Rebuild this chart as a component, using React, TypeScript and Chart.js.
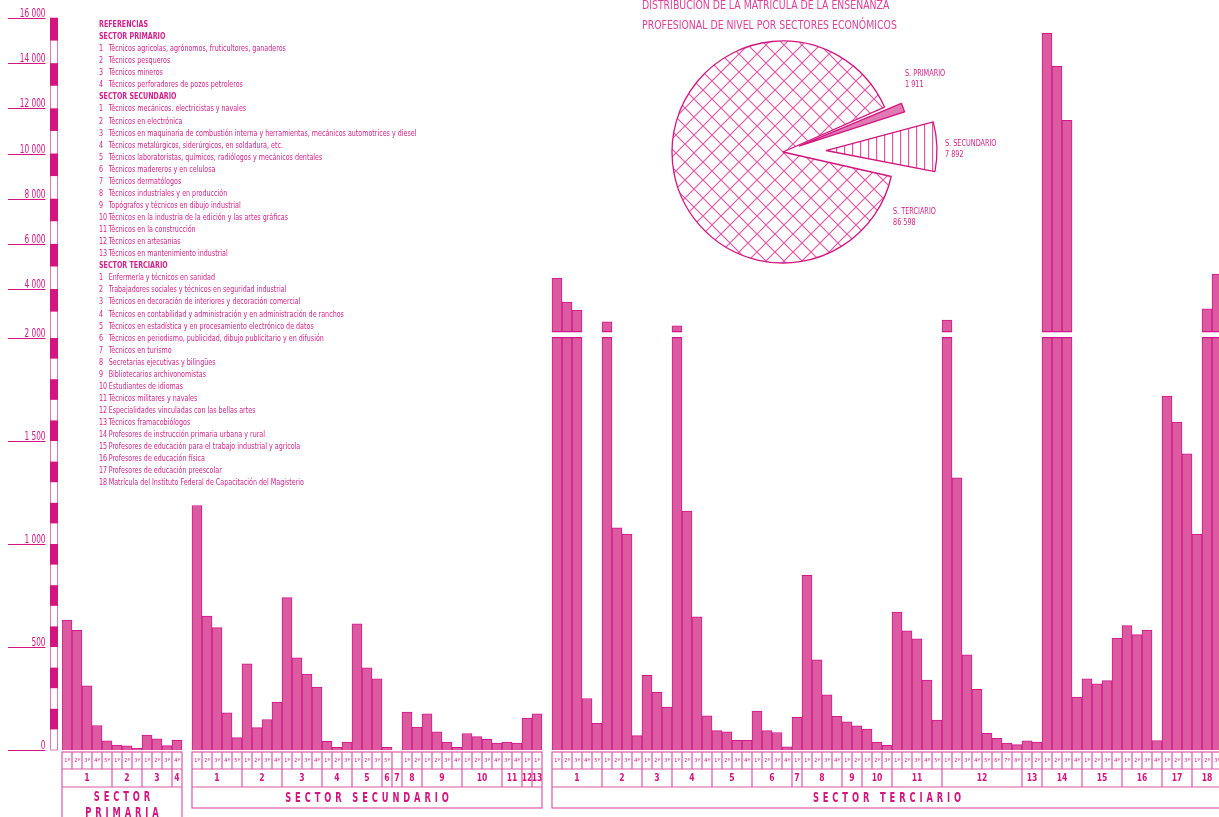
import React, { useEffect, useRef } from 'react';
import { Chart, registerables, LinearScale } from 'chart.js';

// ---------------- data ----------------
const primarioGrupos = ['1', '2', '3', '4'];
const primarioCursos = [['1ª', '2ª', '3ª', '4ª', '5ª'], ['1ª', '2ª', '3ª'], ['1ª', '2ª', '3ª'], ['4ª']];
const primarioValores = [[631, 581, 312, 119, 45], [24, 20, 8], [72, 54, 21], [47]];

const secundarioGrupos = ['1', '2', '3', '4', '5', '6', '7', '8', '9', '10', '11', '12', '13'];
const secundarioCursos = [
  ['1ª', '2ª', '3ª', '4ª', '5ª'], ['1ª', '2ª', '3ª', '4ª'], ['1ª', '2ª', '3ª', '4ª'], ['1ª', '2ª', '3ª'],
  ['1ª', '2ª', '3ª'], ['5ª'], [''], ['1ª', '2ª'], ['1ª', '2ª', '3ª', '4ª'], ['1ª', '2ª', '3ª', '4ª'],
  ['3ª', '4ª'], ['1ª'], ['1ª'],
];
const secundarioValores = [
  [1187, 650, 594, 181, 60], [418, 109, 148, 233], [740, 447, 368, 306], [42, 13, 39],
  [613, 399, 345], [13], [null], [184, 111], [176, 88, 38, 13], [80, 65, 52, 33],
  [38, 33], [155], [176],
];

const terciarioGrupos = ['1', '2', '3', '4', '5', '6', '7', '8', '9', '10', '11', '12', '13', '14', '15', '16', '17', '18'];
const terciarioCursos = [
  ['1ª', '2ª', '3ª', '4ª', '5ª'], ['1ª', '2ª', '3ª', '4ª'], ['1ª', '2ª', '3ª'], ['1ª', '2ª', '3ª', '4ª'],
  ['1ª', '2ª', '3ª', '4ª'], ['1ª', '2ª', '3ª', '4ª'], ['1ª'], ['1ª', '2ª', '3ª', '4ª'], ['1ª', '2ª'],
  ['1ª', '2ª', '3ª'], ['1ª', '2ª', '3ª', '4ª', '5ª'], ['1ª', '2ª', '3ª', '4ª', '5ª', '6ª', '7ª', '8ª'],
  ['1ª', '2ª'], ['1ª', '2ª', '3ª', '4ª'], ['1ª', '2ª', '3ª', '4ª'], ['1ª', '2ª', '3ª', '4ª'],
  ['1ª', '2ª', '3ª'], ['1ª', '2ª', '3ª'],
];
const terciarioValores = [
  [4489, 3426, 3072, 250, 130], [2554, 1078, 1048, 70], [363, 280, 208], [2376, 1160, 647, 166],
  [94, 88, 47, 47], [189, 94, 85, 15], [158], [848, 438, 268, 163], [137, 117],
  [102, 38, 23], [670, 579, 540, 340, 145], [2629, 1321, 462, 294, 81, 57, 33, 26],
  [44, 39], [15326, 13864, 11473, 257], [345, 321, 337, 543], [604, 560, 582, 46],
  [1718, 1592, 1438], [1048, 3129, 4666],
];

const sectorNames = [['SECTOR', 'PRIMARIA'], ['SECTOR SECUNDARIO'], ['SECTOR TERCIARIO']];
const yTickValues = [0, 500, 1000, 1500, 2000, 4000, 6000, 8000, 10000, 12000, 14000, 16000];

const pieLabels = ['S. TERCIARIO', 'S. PRIMARIO', 'S. SECUNDARIO'];
const pieValues = [86598, 1911, 7892];

const titleLines = ['DISTRIBUCIÓN DE LA MATRÍCULA DE LA ENSEÑANZA', 'PROFESIONAL DE NIVEL POR SECTORES ECONÓMICOS'];

const legendPrimario = [
  'Técnicos agricolas, agrónomos, fruticultores, ganaderos',
  'Técnicos pesqueros',
  'Técnicos mineros',
  'Técnicos perforadores de pozos petroleros',
];
const legendSecundario = [
  'Técnicos mecánicos. electricistas y navales',
  'Técnicos en electrónica',
  'Técnicos en maquinaria de combustión interna y herramientas, mecánicos automotrices y diesel',
  'Técnicos metalúrgicos, siderúrgicos, en soldadura, etc.',
  'Técnicos laboratoristas, químicos, radiólogos y mecánicos dentales',
  'Técnicos madereros y en celulosa',
  'Técnicos dermatólogos',
  'Técnicos industriales y en producción',
  'Topógrafos y técnicos en dibujo industrial',
  'Técnicos en la industria de la edición y las artes gráficas',
  'Técnicos en la construcción',
  'Técnicos en artesanias',
  'Técnicos en mantenimiento industrial',
];
const legendTerciario = [
  'Enfermería y técnicos en sanidad',
  'Trabajadores sociales y técnicos en seguridad industrial',
  'Técnicos en decoración de interiores y decoración comercial',
  'Técnicos en contabilidad y administración y en administración de  ranchos',
  'Técnicos en estadística y en procesamiento electrónico de datos',
  'Técnicos en periodismo, publicidad, dibujo publicitario y en difusión',
  'Técnicos en turismo',
  'Secretarias ejecutivas y bilingües',
  'Bibliotecarios archivonomistas',
  'Estudiantes de idiomas',
  'Técnicos militares y navales',
  'Especialidades vinculadas con las bellas artes',
  'Técnicos framacobiólogos',
  'Profesores de instrucción primaria urbana y rural',
  'Profesores de educación para el trabajo industrial y agrícola',
  'Profesores de educación física',
  'Profesores de educación preescolar',
  'Matrícula del Instituto Federal de Capacitación del Magisterio',
];

// ---------------- styles ----------------
const FONT = "'DejaVu Sans Condensed', 'Liberation Sans Narrow', sans-serif";
const MAGENTA = '#d4157f';
const TEXT = '#d4228a';
const BAR_FILL = '#dc5aa0';
const BAR_EDGE = '#d3168a';
const GRID = '#de58a6';

// ---------------- build slots ----------------
type Group = { label: string; start: number; cursos: string[] };
type Sector = { name: string[]; start: number; size: number; groups: Group[] };
const labels: string[] = [];
const values: (number | null)[] = [];
const sectors: Sector[] = [];
function addSector(name: string[], grupos: string[], cursos: string[][], valores: (number | null)[][]) {
  if (labels.length) { labels.push(''); values.push(null); }
  const start = labels.length;
  const groups: Group[] = [];
  grupos.forEach((g, gi) => {
    groups.push({ label: g, start: labels.length, cursos: cursos[gi] });
    cursos[gi].forEach((c, ci) => { labels.push(`${g} ${c}`); values.push(valores[gi][ci]); });
  });
  sectors.push({ name, start, size: labels.length - start, groups });
}
addSector(sectorNames[0], primarioGrupos, primarioCursos, primarioValores);
addSector(sectorNames[1], secundarioGrupos, secundarioCursos, secundarioValores);
addSector(sectorNames[2], terciarioGrupos, terciarioCursos, terciarioValores);

// ---------------- broken scale ----------------
const LOWER_MAX = 2000;
const UPPER_MAX = 16000;
const LOWER_SHARE = 0.5628;
const BREAK_SHARE = 0.0052;

class BrokenLinearScale extends LinearScale {
  static id = 'brokenLinear';
  static defaults = LinearScale.defaults;
  toDecimal(v: number) {
    if (v <= LOWER_MAX) return (v / LOWER_MAX) * LOWER_SHARE;
    return LOWER_SHARE + BREAK_SHARE + ((v - LOWER_MAX) / (UPPER_MAX - LOWER_MAX)) * (1 - LOWER_SHARE - BREAK_SHARE);
  }
  getPixelForValue(value: any) {
    if (value === null || value === undefined || Number.isNaN(+value)) return NaN;
    return this.getPixelForDecimal(this.toDecimal(+value));
  }
  getValueForPixel(pixel: number) {
    const d = this.getDecimalForPixel(pixel);
    if (d <= LOWER_SHARE) return (d / LOWER_SHARE) * LOWER_MAX;
    return LOWER_MAX + ((d - LOWER_SHARE - BREAK_SHARE) / (1 - LOWER_SHARE - BREAK_SHARE)) * (UPPER_MAX - LOWER_MAX);
  }
}

Chart.register(...registerables, BrokenLinearScale);

const fmt = (v: number) => (v >= 1000 ? `${Math.floor(v / 1000)} ${String(v % 1000).padStart(3, '0')}` : String(v));

// ---------------- plugins ----------------
const breakPlugin = {
  id: 'axisBreak',
  afterDatasetsDraw(chart: any) {
    const y = chart.scales.y;
    const area = chart.chartArea;
    const ctx = chart.ctx;
    const yLow = y.getPixelForDecimal(LOWER_SHARE);
    const yHigh = y.getPixelForDecimal(LOWER_SHARE + BREAK_SHARE);
    const top = yHigh - 2.5;
    const bot = yLow - 0.5;
    ctx.save();
    ctx.fillStyle = '#ffffff';
    ctx.fillRect(area.left, top, area.right - area.left, bot - top);
    ctx.strokeStyle = BAR_EDGE;
    ctx.lineWidth = 1.2;
    const meta = chart.getDatasetMeta(0);
    meta.data.forEach((bar: any, i: number) => {
      const v = values[i];
      if (v == null || v <= LOWER_MAX) return;
      const { x, width } = bar.getProps(['x', 'width'], true);
      ctx.beginPath();
      ctx.moveTo(x - width / 2, top); ctx.lineTo(x + width / 2, top);
      ctx.moveTo(x - width / 2, bot); ctx.lineTo(x + width / 2, bot);
      ctx.stroke();
    });
    ctx.restore();
  },
};

const axisPlugin = {
  id: 'stripedAxis',
  afterDraw(chart: any) {
    const y = chart.scales.y;
    const ctx = chart.ctx as CanvasRenderingContext2D;
    const sx0 = y.right - 12;
    const sw = 8;
    ctx.save();
    ctx.strokeStyle = '#e27ab6';
    ctx.lineWidth = 1;
    ctx.strokeRect(sx0 + 0.5, y.getPixelForValue(UPPER_MAX), sw - 1, y.getPixelForValue(0) - y.getPixelForValue(UPPER_MAX));
    ctx.fillStyle = MAGENTA;
    for (let v = 0, k = 0; v < LOWER_MAX; v += 100, k++) {
      if (k % 2 === 1) {
        const a = y.getPixelForValue(v); const b = y.getPixelForValue(v + 100);
        ctx.fillRect(sx0, b, sw, a - b);
      }
    }
    for (let v = LOWER_MAX, k = 0; v < UPPER_MAX; v += 1000, k++) {
      if (k % 2 === 1) {
        const a = y.getPixelForValue(v + 0.0001); const b = y.getPixelForValue(v + 1000);
        ctx.fillRect(sx0, b, sw, a - b);
      }
    }
    // tick labels with underline
    ctx.strokeStyle = MAGENTA;
    ctx.lineWidth = 1;
    ctx.font = `13px ${FONT}`;
    ctx.textBaseline = 'alphabetic';
    ctx.textAlign = 'right';
    const labelRight = y.right - 16.5;
    y.ticks.forEach((t: any, i: number) => {
      const p = Math.round(y.getPixelForTick(i)) + 0.5;
      ctx.beginPath(); ctx.moveTo(y.left + 8, p); ctx.lineTo(labelRight, p); ctx.stroke();
      ctx.save();
      ctx.translate(labelRight, p - 1.5);
      ctx.scale(0.63, 1);
      ctx.fillText(t.label, 0, 0);
      ctx.restore();
    });
    ctx.restore();
  },
};

function spacedText(ctx: CanvasRenderingContext2D, text: string, cx: number, cy: number, sx: number, gap: number) {
  ctx.save();
  (ctx as any).letterSpacing = '0px';
  const w = ctx.measureText(text).width * sx;
  const total = w + gap * (text.length - 1);
  ctx.translate(cx - total / 2, cy);
  ctx.scale(sx, 1);
  (ctx as any).letterSpacing = `${gap / sx}px`;
  ctx.textAlign = 'left';
  ctx.textBaseline = 'middle';
  ctx.fillText(text, 0, 0);
  ctx.restore();
}

const tablePlugin = {
  id: 'sectorTable',
  afterDraw(chart: any) {
    const ctx = chart.ctx as CanvasRenderingContext2D;
    const xs = chart.scales.x;
    const area = chart.chartArea;
    const slotW = xs.getPixelForValue(1) - xs.getPixelForValue(0);
    const edge = (s: number) => xs.getPixelForValue(s) - slotW / 2;
    const r0 = area.bottom + 2;
    const r1 = r0 + 17;
    const r2 = r1 + 18;
    const r3 = r2 + 21;
    const line = (x1: number, y1: number, x2: number, y2: number) => {
      ctx.beginPath(); ctx.moveTo(x1, y1); ctx.lineTo(x2, y2); ctx.stroke();
    };
    ctx.save();
    ctx.strokeStyle = GRID;
    ctx.lineWidth = 1.2;
    ctx.fillStyle = MAGENTA;
    sectors.forEach((sec) => {
      const x0 = edge(sec.start);
      const x1 = edge(sec.start + sec.size);
      const bottom = sec.name.length > 1 ? chart.height + 5 : r3;
      ctx.strokeRect(x0, r0, x1 - x0, bottom - r0);
      line(x0, r1, x1, r1);
      line(x0, r2, x1, r2);
      sec.groups.forEach((g) => {
        if (g.start > sec.start) line(edge(g.start), r1, edge(g.start), r2);
        g.cursos.forEach((c, ci) => {
          const s = g.start + ci;
          if (s > sec.start) line(edge(s), r0, edge(s), r1);
          if (c) {
            ctx.font = `5.5px ${FONT}`;
            ctx.textAlign = 'center';
            ctx.textBaseline = 'middle';
            ctx.fillText(c, xs.getPixelForValue(s), (r0 + r1) / 2);
          }
        });
        ctx.font = `bold 10px ${FONT}`;
        ctx.textAlign = 'center';
        ctx.textBaseline = 'middle';
        const gc = (edge(g.start) + edge(g.start + g.cursos.length)) / 2;
        ctx.save();
        ctx.translate(gc, (r1 + r2) / 2 + 0.5);
        ctx.scale(0.85, 1);
        ctx.fillText(g.label, 0, 0);
        ctx.restore();
      });
      ctx.font = `bold 14px ${FONT}`;
      const cx = (x0 + Math.min(x1, xs.right)) / 2;
      if (sec.name.length > 1) {
        spacedText(ctx, sec.name[0], cx, r2 + 10, 0.66, 3.9);
        spacedText(ctx, sec.name[1], cx, r2 + 26, 0.66, 3.9);
      } else {
        spacedText(ctx, sec.name[0], cx, (r2 + r3) / 2 + 0.5, 0.66, 3.9);
      }
    });
    ctx.restore();
  },
};

// pie: keep exploded slices at the common radius
const pieRadiusPlugin = {
  id: 'pieRadius',
  beforeDatasetsDraw(chart: any) {
    const meta = chart.getDatasetMeta(0);
    const base = chart.options.radius;
    meta.data.forEach((arc: any) => {
      const off = (arc.options.offset || 0) / 4;
      const circ = arc.endAngle - arc.startAngle;
      const fix = 1 - Math.sin(Math.min(Math.PI, circ));
      arc.outerRadius = base - off * fix;
    });
  },
};

function makeCross(ctx: CanvasRenderingContext2D) {
  const c = document.createElement('canvas');
  c.width = 18; c.height = 18;
  const g = c.getContext('2d')!;
  g.fillStyle = '#ffffff'; g.fillRect(0, 0, 18, 18);
  g.strokeStyle = GRID; g.lineWidth = 1.2;
  g.beginPath();
  g.moveTo(-2, -2); g.lineTo(20, 20);
  g.moveTo(20, -2); g.lineTo(-2, 20);
  g.stroke();
  return ctx.createPattern(c, 'repeat')!;
}
function makeVertical(ctx: CanvasRenderingContext2D) {
  const c = document.createElement('canvas');
  c.width = 8; c.height = 8;
  const g = c.getContext('2d')!;
  g.fillStyle = '#ffffff'; g.fillRect(0, 0, 8, 8);
  g.fillStyle = GRID; g.fillRect(4, 0, 1.2, 8);
  return ctx.createPattern(c, 'repeat')!;
}

export default function App() {
  const mainRef = useRef<HTMLCanvasElement>(null);
  const pieRef = useRef<HTMLCanvasElement>(null);

  useEffect(() => {
    const main = new Chart(mainRef.current!, {
      type: 'bar',
      data: {
        labels,
        datasets: [{
          data: values as any,
          backgroundColor: BAR_FILL,
          borderColor: BAR_EDGE,
          borderWidth: 1,
          barPercentage: 1,
          categoryPercentage: 1,
        }],
      },
      options: {
        responsive: false,
        animation: false,
        devicePixelRatio: 1,
        events: [],
        layout: { padding: { top: 18, bottom: 67, right: 8, left: 0 } },
        plugins: { legend: { display: false }, tooltip: { enabled: false } },
        scales: {
          x: { type: 'category', display: false, offset: true, grid: { display: false } },
          y: {
            type: 'brokenLinear' as any,
            min: 0,
            max: UPPER_MAX,
            afterBuildTicks: (s: any) => { s.ticks = yTickValues.map((v) => ({ value: v })); },
            afterFit: (s: any) => { s.width = 62; s.paddingTop = 0; s.paddingBottom = 0; },
            grid: { display: false, drawTicks: false },
            border: { display: false },
            ticks: {
              display: false,
              autoSkip: false,
              callback: (v: any) => fmt(+v),
            },
          } as any,
        },
      },
      plugins: [breakPlugin, axisPlugin, tablePlugin],
    });

    const pctx = pieRef.current!.getContext('2d')!;
    const pie = new Chart(pieRef.current!, {
      type: 'pie',
      data: {
        labels: pieLabels,
        datasets: [{
          data: pieValues,
          backgroundColor: [makeCross(pctx), '#e07ab5', makeVertical(pctx)],
          borderColor: MAGENTA,
          borderWidth: 1.3,
          offset: [0, 68, 172],
        }],
      },
      options: {
        responsive: false,
        animation: false,
        devicePixelRatio: 1,
        events: [],
        rotation: 102.75,
        radius: 111,
        layout: { padding: 0 },
        plugins: { legend: { display: false }, tooltip: { enabled: false } },
      } as any,
      plugins: [pieRadiusPlugin],
    });

    return () => { main.destroy(); pie.destroy(); };
  }, []);

  const squeeze = (k: number): React.CSSProperties => ({
    transform: `scaleX(${k})`, transformOrigin: '0 0', whiteSpace: 'nowrap', fontFamily: FONT, color: TEXT, position: 'absolute',
  });
  const row = (n: number, t: string) => (
    <div key={`${n}-${t}`}><span style={{ display: 'inline-block', width: 13 }}>{n}</span>{t}</div>
  );
  const head = (t: string) => <div style={{ fontWeight: 'bold' }}>{t}</div>;

  return (
    <div style={{ position: 'fixed', left: 0, top: 0, width: '100vw', height: '100vh', overflow: 'hidden', background: '#ffffff' }}>
      <canvas ref={mainRef} width={1230} height={817} style={{ position: 'absolute', left: 0, top: 0, width: 1230, height: 817 }} />
      <canvas ref={pieRef} width={340} height={340} style={{ position: 'absolute', left: 613, top: -18, width: 340, height: 340 }} />

      <div style={{ ...squeeze(0.8), left: 642, top: -5, fontSize: 13, lineHeight: '20px', color: '#df3e98' }}>
        {titleLines.map((t) => <div key={t}>{t}</div>)}
      </div>

      <div style={{ ...squeeze(0.745), left: 99, top: 18, fontSize: 9.5, lineHeight: '12.06px' }}>
        {head('REFERENCIAS')}
        {head('SECTOR PRIMARIO')}
        {legendPrimario.map((t, i) => row(i + 1, t))}
        {head('SECTOR SECUNDARIO')}
        {legendSecundario.map((t, i) => row(i + 1, t))}
        {head('SECTOR TERCIARIO')}
        {legendTerciario.map((t, i) => row(i + 1, t))}
      </div>

      <div style={{ ...squeeze(0.76), left: 905, top: 66.5, fontSize: 9.5, lineHeight: '11.8px' }}>
        <div>{pieLabels[1]}</div><div>{fmt(pieValues[1])}</div>
      </div>
      <div style={{ ...squeeze(0.76), left: 945, top: 136.7, fontSize: 9.5, lineHeight: '11.8px' }}>
        <div>{pieLabels[2]}</div><div>{fmt(pieValues[2])}</div>
      </div>
      <div style={{ ...squeeze(0.76), left: 892.5, top: 204.7, fontSize: 9.5, lineHeight: '11.8px' }}>
        <div>{pieLabels[0]}</div><div>{fmt(pieValues[0])}</div>
      </div>
    </div>
  );
}
